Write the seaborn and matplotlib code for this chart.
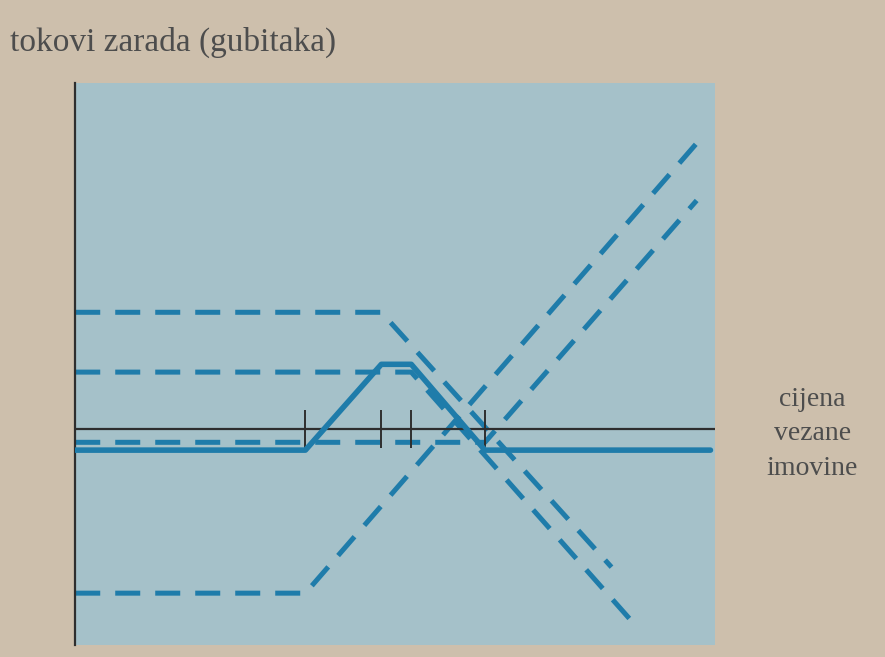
import matplotlib
matplotlib.use("Agg")
import matplotlib.pyplot as plt
import seaborn as sns

# breakpoints of each payoff line (price, profit)
long_k1_x = [0, 100, 270]
long_k1_y = [-63, -63, 110]
short_k2_x = [0, 133, 233]
short_k2_y = [45, 45, -53]
short_k3_x = [0, 146, 244]
short_k3_y = [22, 22, -76]
long_k4_x = [0, 178, 270]
long_k4_y = [-5, -5, 88]
position_x = [0, 100, 133, 146, 178, 276]
position_y = [-8, -8, 25, 25, -8, -8]
strikes = [100, 133, 146, 178]

title = "tokovi zarada (gubitaka)"
xlabel = "cijena\nvezane\nimovine"

sns.set_style("white")
plt.rcParams['font.family'] = ['Liberation Serif', 'DejaVu Serif']

blue = "#1f7caa"
fig = plt.figure(figsize=(8.85, 6.57), dpi=100)
fig.patch.set_facecolor("#cdbfac")
ax = fig.add_axes([0.085, 0.018, 0.723, 0.855])
ax.set_facecolor("#a5c1c9")

dashed = (0, (5, 3))
for xs, ys in [(long_k1_x, long_k1_y), (short_k2_x, short_k2_y),
               (short_k3_x, short_k3_y), (long_k4_x, long_k4_y)]:
    sns.lineplot(x=xs, y=ys, ax=ax, color=blue, lw=3.6, linestyle=dashed,
                 estimator=None, sort=False, zorder=2)

sns.lineplot(x=position_x, y=position_y, ax=ax, color=blue, lw=4,
             estimator=None, sort=False, zorder=4)

ax.axhline(0, color="#2e2e2e", lw=1.6, zorder=3)
ax.vlines(strikes, -7, 7.5, color="#2e2e2e", lw=1.4, zorder=3)

ax.set_xlim(0, 278)
ax.set_ylim(-83, 133)
ax.set_xticks([])
ax.set_yticks([])
for s in ["top", "right", "bottom"]:
    ax.spines[s].set_visible(False)
ax.spines["left"].set_color("#2e2e2e")
ax.spines["left"].set_linewidth(1.6)

fig.text(0.011, 0.935, title, fontsize=24, color="#4d4d4d", va="center", ha="left")
fig.text(0.918, 0.34, xlabel, fontsize=20, color="#4d4d4d", va="center", ha="center",
         linespacing=1.5)

fig.savefig("out.png", dpi=100, facecolor=fig.get_facecolor())
